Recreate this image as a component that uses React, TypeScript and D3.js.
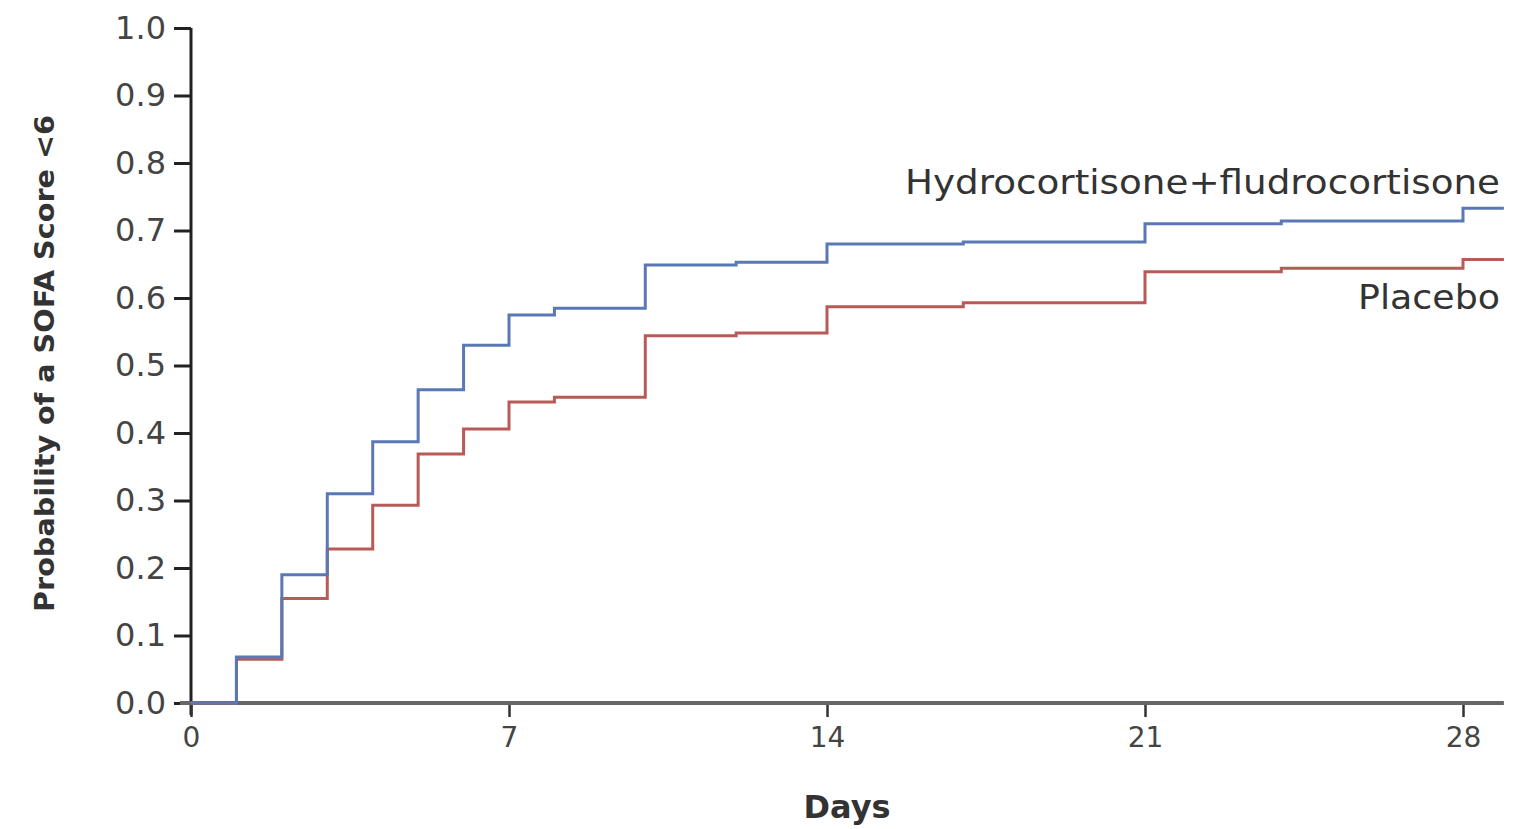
import React, { useEffect, useRef } from 'react';
import * as d3 from 'd3';

// Kaplan-Meier style cumulative probability
const hydroDays = [0, 1, 2, 3, 4, 5, 6, 7, 8, 10, 12, 14, 17, 21, 24, 28];
const hydroProb = [0, 0.068, 0.19, 0.31, 0.387, 0.464, 0.53, 0.575, 0.585, 0.649, 0.653, 0.68, 0.683, 0.71, 0.714, 0.733];
const placeboDays = [0, 1, 2, 3, 4, 5, 6, 7, 8, 10, 12, 14, 17, 21, 24, 28];
const placeboProb = [0, 0.065, 0.155, 0.228, 0.293, 0.369, 0.406, 0.446, 0.453, 0.544, 0.548, 0.587, 0.593, 0.639, 0.644, 0.657];
const xTicks = [0, 7, 14, 21, 28];
const yTicks = [0, 0.1, 0.2, 0.3, 0.4, 0.5, 0.6, 0.7, 0.8, 0.9, 1.0];
const lastDay = 28.9;

const W = 1513;
const H = 829;
const FONT = '"DejaVu Sans", Verdana, sans-serif';

export default function App() {
    const ref = useRef<SVGSVGElement>(null);

    useEffect(() => {
        const svg = d3.select(ref.current);
        svg.selectAll('*').remove();

        const x = d3.scaleLinear().domain([0, lastDay]).range([191, 191 + lastDay * (1463 - 191) / 28]);
        const y = d3.scaleLinear().domain([0, 1]).range([703, 28]);

        // y axis
        const yAxis = d3.axisLeft(y)
            .tickValues(yTicks)
            .tickFormat(d3.format('.1f'))
            .tickSize(17)
            .tickSizeOuter(0)
            .tickPadding(8);
        const gy = svg.append('g').attr('transform', 'translate(191,0)').call(yAxis);
        gy.select('.domain').remove();
        gy.selectAll('line').attr('stroke', '#222').attr('stroke-width', 3);
        gy.selectAll('text')
            .attr('font-family', FONT)
            .attr('font-size', 32)
            .attr('fill', '#444');
        svg.append('line')
            .attr('x1', 191).attr('x2', 191)
            .attr('y1', y(1)).attr('y2', y(0) + 12)
            .attr('stroke', '#222').attr('stroke-width', 3);

        // x axis
        const xAxis = d3.axisBottom(x)
            .tickValues(xTicks)
            .tickSize(14)
            .tickSizeOuter(0)
            .tickPadding(10);
        const gx = svg.append('g').attr('transform', `translate(0,${y(0)})`).call(xAxis);
        gx.select('.domain').remove();
        gx.selectAll('line').attr('stroke', '#333').attr('stroke-width', 2.5);
        gx.selectAll('text')
            .attr('font-family', FONT)
            .attr('font-size', 28)
            .attr('fill', '#444');
        svg.append('line')
            .attr('x1', 180).attr('x2', x(lastDay))
            .attr('y1', y(0)).attr('y2', y(0))
            .attr('stroke', '#666').attr('stroke-width', 4);

        // curves
        const line = d3.line<[number, number]>()
            .x(d => x(d[0]))
            .y(d => y(d[1]))
            .curve(d3.curveStepAfter);

        const series = [
            { days: hydroDays, prob: hydroProb, color: '#5a78b4' },
            { days: placeboDays, prob: placeboProb, color: '#b85a55' },
        ];
        series.reverse().forEach(s => {
            const pts: [number, number][] = s.days.map((d, i) => [d, s.prob[i]]);
            pts.push([lastDay, s.prob[s.prob.length - 1]]);
            svg.append('path')
                .datum(pts)
                .attr('d', line)
                .attr('fill', 'none')
                .attr('stroke', s.color)
                .attr('stroke-width', 3);
        });

        // labels (the original is a little stretched horizontally)
        svg.append('text')
            .attr('x', 905).attr('y', 194)
            .attr('font-family', FONT)
            .attr('font-size', 33)
            .attr('fill', '#333')
            .attr('textLength', 595)
            .attr('lengthAdjust', 'spacingAndGlyphs')
            .text('Hydrocortisone+fludrocortisone');
        svg.append('text')
            .attr('x', 1358).attr('y', 309)
            .attr('font-family', FONT)
            .attr('font-size', 33)
            .attr('fill', '#333')
            .attr('textLength', 142)
            .attr('lengthAdjust', 'spacingAndGlyphs')
            .text('Placebo');

        svg.append('text')
            .attr('x', 847).attr('y', 818)
            .attr('text-anchor', 'middle')
            .attr('font-family', FONT)
            .attr('font-size', 32)
            .attr('font-weight', 'bold')
            .attr('fill', '#333')
            .text('Days');

        svg.append('text')
            .attr('transform', 'translate(54,612) rotate(-90)')
            .attr('font-family', FONT)
            .attr('font-size', 27)
            .attr('font-weight', 'bold')
            .attr('fill', '#333')
            .attr('textLength', 497)
            .attr('lengthAdjust', 'spacingAndGlyphs')
            .text('Probability of a SOFA Score <6');
    }, []);

    return (
        <svg ref={ref} width={W} height={H}
            style={{ position: 'absolute', left: 0, top: 0, background: '#fff' }} />
    );
}
